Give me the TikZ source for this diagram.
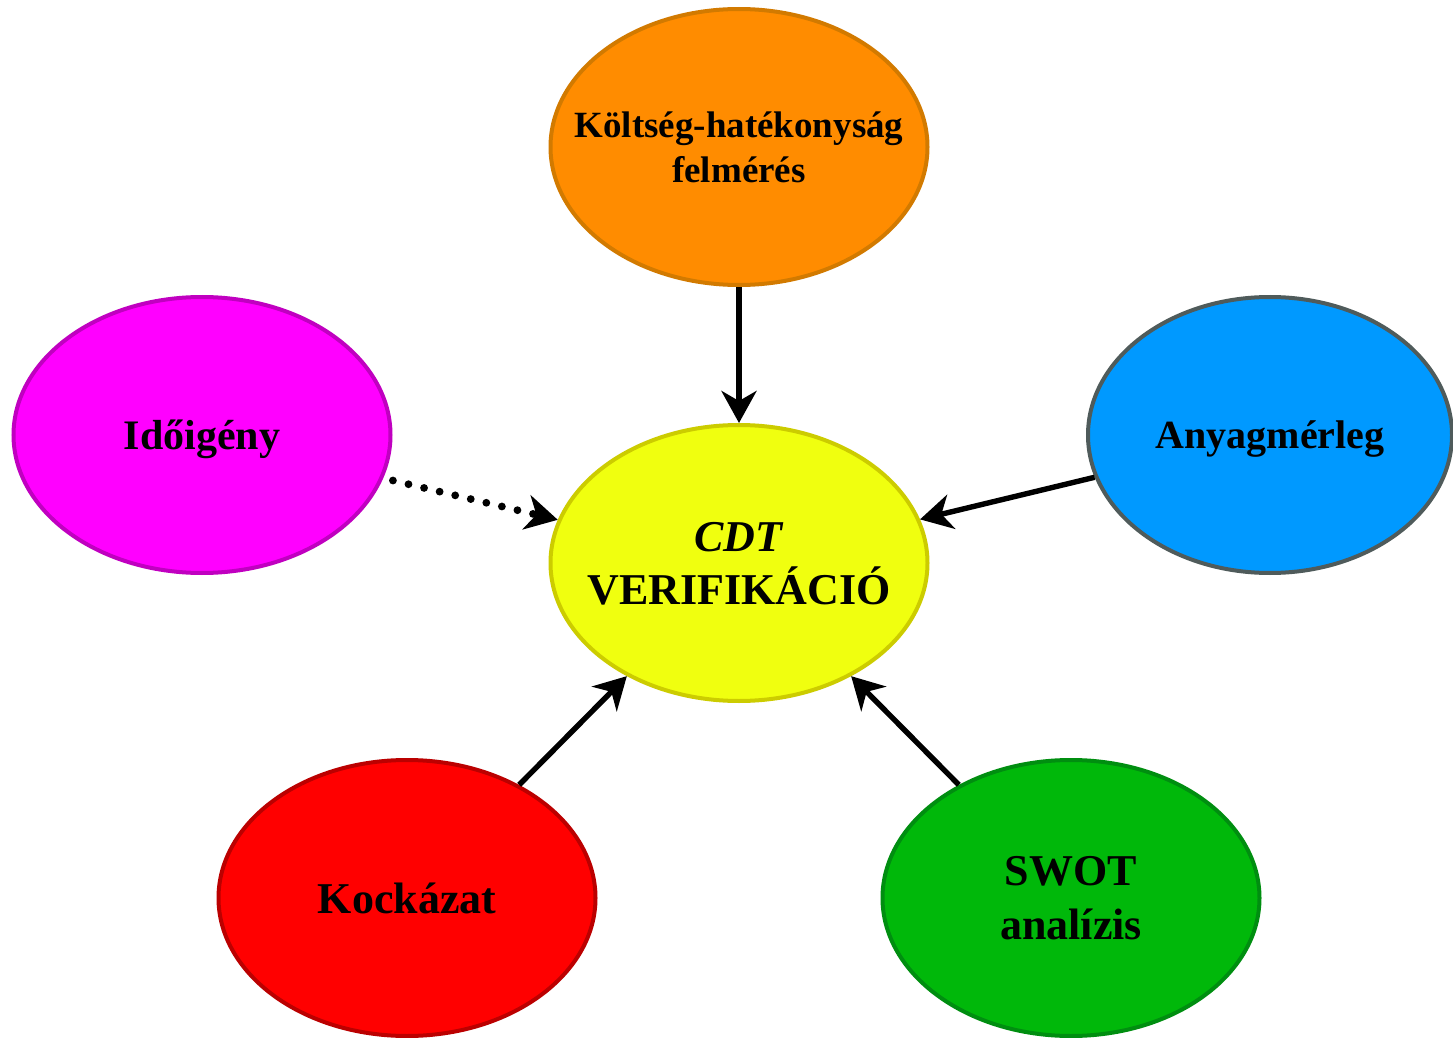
\documentclass[tikz,border=0pt]{standalone}
\usepackage{fontspec}
\setmainfont{Liberation Serif}
\usetikzlibrary{shapes.geometric,arrows.meta}
\definecolor{orfill}{HTML}{FF8C00}
\definecolor{ordraw}{HTML}{D27A00}
\definecolor{mgfill}{HTML}{FF00FF}
\definecolor{mgdraw}{HTML}{C000C0}
\definecolor{blfill}{HTML}{0099FF}
\definecolor{bldraw}{HTML}{4F5B5B}
\definecolor{ylfill}{HTML}{F0FF0F}
\definecolor{yldraw}{HTML}{CCCC00}
\definecolor{rdfill}{HTML}{FF0000}
\definecolor{rddraw}{HTML}{BB0000}
\definecolor{gnfill}{HTML}{00B80A}
\definecolor{gndraw}{HTML}{008E10}
\tikzset{
  oval/.style={ellipse, draw, line width=2pt, inner xsep=-80pt, inner ysep=0pt,
    minimum width=188.5pt, minimum height=138pt,
    align=center, text depth=0pt},
  conn/.style={line width=2.7pt, -{Stealth[length=16pt,width=17.5pt,inset=5pt]}},
  dotconn/.style={line width=3.9pt, line cap=round, dash pattern=on 0pt off 8pt,
    shorten <=5pt, -{Stealth[length=16pt,width=17.5pt,inset=5pt]}}
}
\begin{document}
\begin{tikzpicture}[x=0.5pt,y=-0.5pt]
\useasboundingbox (0,0) rectangle (1453,1038);
\node[oval, fill=orfill, draw=ordraw, font=\bfseries\fontsize{18.5}{22.5}\selectfont] (cost) at (739,147)
  {Költség-hatékonyság\\felmérés};
\node[oval, fill=mgfill, draw=mgdraw, font=\bfseries\fontsize{21}{25}\selectfont] (time) at (202,435)
  {Időigény};
\node[oval, fill=blfill, draw=bldraw, minimum width=182pt, font=\bfseries\fontsize{20}{24}\selectfont] (mat) at (1270,435)
  {Anyagmérleg};
\node[oval, fill=ylfill, draw=yldraw, font=\bfseries\fontsize{22}{26.5}\selectfont] (cdt) at (739,563)
  {\textit{CDT}\\VERIFIKÁCIÓ};
\node[oval, fill=rdfill, draw=rddraw, font=\bfseries\fontsize{22}{26.5}\selectfont] (risk) at (407,898)
  {Kockázat};
\node[oval, fill=gnfill, draw=gndraw, font=\bfseries\fontsize{22}{27}\selectfont] (swot) at (1071,898)
  {SWOT\\analízis};
\draw[conn] (cost) -- (cdt);
\draw[dotconn] (time) -- (cdt);
\draw[conn] (mat) -- (cdt);
\draw[conn] (risk) -- (cdt);
\draw[conn] (swot) -- (cdt);
\end{tikzpicture}
\end{document}
